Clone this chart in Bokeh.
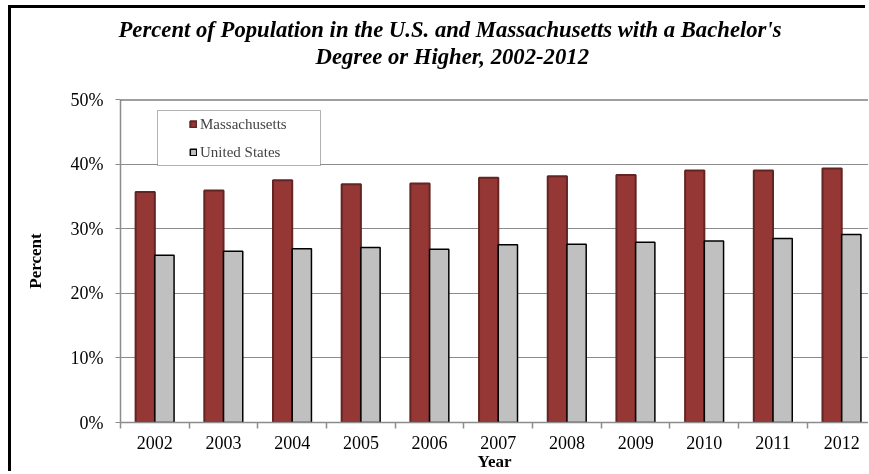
from bokeh.plotting import figure
from bokeh.models import (ColumnDataSource, Range1d, FixedTicker, PrintfTickFormatter,
                          Legend, LegendItem, Title, BoxAnnotation, Span)
from bokeh.transform import dodge
from bokeh.embed import file_html
from bokeh.resources import INLINE

years = [2002, 2003, 2004, 2005, 2006, 2007, 2008, 2009, 2010, 2011, 2012]
massachusetts = [35.7, 35.9, 37.5, 36.9, 37.0, 37.9, 38.1, 38.3, 39.0, 39.0, 39.3]
united_states = [25.9, 26.5, 26.9, 27.1, 26.8, 27.5, 27.6, 27.9, 28.1, 28.5, 29.1]
y_ticks = [0, 10, 20, 30, 40, 50]
series_names = ["Massachusetts", "United States"]
title_lines = ["Percent of Population in the U.S. and Massachusetts with a Bachelor's",
               "Degree or Higher, 2002-2012"]

FONT = "Liberation Serif"
W, H = 857, 466
BL, BT, BB, BR = 109, 91, 52, 0
FW = W - BL - BR
FH = H - BT - BB

src = ColumnDataSource(dict(year=years, ma=massachusetts, us=united_states))

p = figure(width=W, height=H, output_backend="svg", toolbar_location=None,
           x_range=Range1d(years[0] - 0.5, years[-1] + 0.39), y_range=Range1d(0, 50),
           min_border_left=BL, min_border_top=BT, min_border_bottom=BB, min_border_right=BR,
           background_fill_color="white", border_fill_color="white")
p.outline_line_color = None
p.styles = {"position": "fixed", "top": "8px", "left": "11px",
            "box-shadow": "-3px -3px 0px 0px black"}

r1 = p.vbar(x=dodge("year", -0.14, range=p.x_range), top="ma", width=0.28, source=src,
            fill_color="#953735", line_color="#632523", line_width=2)
r2 = p.vbar(x=dodge("year", 0.14, range=p.x_range), top="us", width=0.28, source=src,
            fill_color="#C0C0C0", line_color="black", line_width=1.5)

# axes
p.yaxis.ticker = FixedTicker(ticks=y_ticks)
p.yaxis.formatter = PrintfTickFormatter(format="%d%%")
p.yaxis.major_label_text_font = FONT
p.yaxis.major_label_text_font_size = "18px"
p.yaxis.major_label_text_color = "black"
p.yaxis.major_tick_out = 5
p.yaxis.major_tick_in = 0
p.yaxis.minor_tick_line_color = None
p.yaxis.major_label_standoff = 12
p.yaxis.axis_line_color = "#8c8c8c"
p.yaxis.axis_line_width = 1.5
p.yaxis.major_tick_line_color = "#8c8c8c"
p.yaxis.axis_label = "Percent"
p.yaxis.axis_label_text_font = FONT
p.yaxis.axis_label_text_font_style = "bold"
p.yaxis.axis_label_text_font_size = "17px"
p.yaxis.axis_label_text_color = "black"
p.yaxis.axis_label_standoff = 23

p.xaxis.ticker = FixedTicker(ticks=years, minor_ticks=[y - 0.5 for y in years] + [years[-1] + 0.5])
p.xaxis.major_label_text_font = FONT
p.xaxis.major_label_text_font_size = "18px"
p.xaxis.major_label_text_color = "black"
p.xaxis.major_tick_line_color = None
p.xaxis.minor_tick_out = 6
p.xaxis.minor_tick_in = 0
p.xaxis.minor_tick_line_color = "#8c8c8c"
p.xaxis.minor_tick_line_width = 1.5
p.xaxis.major_label_standoff = 7
p.xaxis.axis_line_color = "#8c8c8c"
p.xaxis.axis_line_width = 1.5
p.xaxis.axis_label = "Year"
p.xaxis.axis_label_text_font = FONT
p.xaxis.axis_label_text_font_style = "bold"
p.xaxis.axis_label_text_font_size = "17px"
p.xaxis.axis_label_text_color = "black"
p.xaxis.axis_label_standoff = 0

p.xgrid.grid_line_color = None
p.ygrid.ticker = FixedTicker(ticks=y_ticks)
p.ygrid.grid_line_color = "#8c8c8c"
p.ygrid.grid_line_width = 1

p.add_layout(Span(location=y_ticks[-1], dimension="width", line_color="#404040", line_width=2))

# legend frame
p.add_layout(BoxAnnotation(left=37, right=200, top=FH - 11, bottom=FH - 66,
                           left_units="screen", right_units="screen", top_units="screen",
                           bottom_units="screen", fill_color="white", fill_alpha=1,
                           line_color="black", line_width=1))

legend = Legend(items=[LegendItem(label=series_names[0], renderers=[r1]),
                       LegendItem(label=series_names[1], renderers=[r2])],
                location=(69, FH - 63), orientation="vertical",
                padding=0, margin=0, spacing=8, glyph_width=8, glyph_height=8,
                label_height=20, label_standoff=3,
                label_text_font=FONT, label_text_font_size="15px",
                border_line_color=None, background_fill_alpha=0)
p.add_layout(legend)

# spacer between frame and title block
p.add_layout(Title(text=" ", text_font_size="1px", standoff=28), "above")
# title lines (line nearest the frame first)
for t, off in [(title_lines[1], 195), (title_lines[0], -2)]:
    p.add_layout(Title(text=t, align="left", offset=off, text_font=FONT,
                       text_font_style="bold italic", text_font_size="22.7px",
                       text_color="black", standoff=0), "above")

open("out.html", "w").write(file_html(p, INLINE))
